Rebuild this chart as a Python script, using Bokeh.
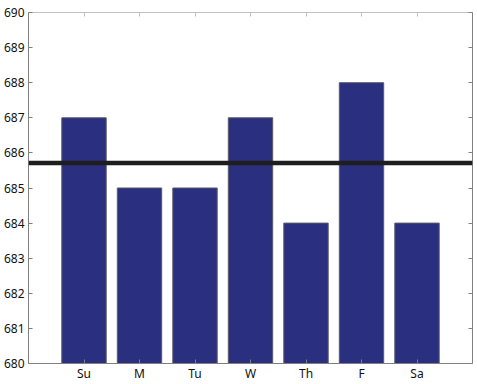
from bokeh.plotting import figure
from bokeh.models import (Range1d, FixedTicker, LinearAxis, Span, ColumnDataSource,
                          CustomJSTickFormatter)
from bokeh.embed import file_html
from bokeh.resources import INLINE

days = ["Su", "M", "Tu", "W", "Th", "F", "Sa"]
values = [687, 685, 685, 687, 684, 688, 684]
y_ticks = [680, 681, 682, 683, 684, 685, 686, 687, 688, 689, 690]

positions = list(range(1, len(days) + 1))
mean_val = sum(values) / len(values)

src = ColumnDataSource(dict(x=positions, top=values, day=days))

p = figure(width=477, height=384, output_backend="svg", toolbar_location=None,
           x_range=Range1d(0, len(days) + 1), y_range=Range1d(680, 690),
           min_border_left=27, min_border_right=5, min_border_top=12,
           min_border_bottom=0, x_axis_location="below", y_axis_location="left")

p.vbar(x="x", top="top", bottom=680, width=0.8, source=src,
       fill_color="#2b2f7f", line_color="#5a5a6a", line_width=1)

p.add_layout(Span(location=mean_val, dimension="width", line_color="#1e1e1e",
                  line_width=4.5))

p.grid.visible = False
p.outline_line_color = None
p.background_fill_color = "white"
p.border_fill_color = "white"

font = "Noto Sans"

xa = p.xaxis[0]
xa.ticker = FixedTicker(ticks=positions)
xa.major_label_overrides = {i: d for i, d in zip(positions, days)}
ya = p.yaxis[0]
ya.ticker = FixedTicker(ticks=y_ticks)

for ax in (xa, ya):
    ax.axis_line_color = "#808080"
    ax.major_tick_line_color = "#808080"
    ax.major_tick_in = 4
    ax.major_tick_out = 0
    ax.minor_tick_line_color = None
    ax.major_label_text_font = font
    ax.major_label_text_font_size = "12px"
    ax.major_label_text_color = "#111111"
xa.major_label_standoff = 1
xa.major_label_text_line_height = 0.7
ya.major_label_standoff = 4

blank = CustomJSTickFormatter(code="return '';")
top_ax = LinearAxis(ticker=FixedTicker(ticks=positions), axis_line_color="#c0c0c0",
                    major_tick_line_color="#c0c0c0", major_tick_in=4, major_tick_out=0,
                    minor_tick_line_color=None, formatter=blank,
                    major_label_standoff=0)
right_ax = LinearAxis(ticker=FixedTicker(ticks=y_ticks), axis_line_color="#808080",
                      major_tick_line_color="#808080", major_tick_in=4, major_tick_out=0,
                      minor_tick_line_color=None, formatter=blank,
                      major_label_standoff=0)
p.add_layout(top_ax, "above")
p.add_layout(right_ax, "right")

open("out.html", "w").write(file_html(p, INLINE))
